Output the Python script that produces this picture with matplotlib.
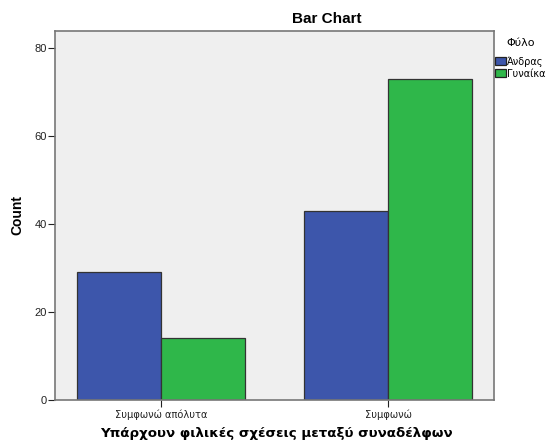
import numpy as np
import matplotlib.pyplot as plt

categories = ["Συμφωνώ απόλυτα", "Συμφωνώ"]
series = ["Άνδρας", "Γυναίκα"]
andras = [29, 43]
gynaika = [14, 73]
colors = ["#3d56ab", "#2fb74a"]

plt.rcParams['font.family'] = ['Liberation Sans', 'DejaVu Sans']

W, H = 551, 443
fig = plt.figure(figsize=(W/100, H/100), dpi=100)
# axes box: x 55..494, y 31..400 (pixels)
ax = fig.add_axes([55/W, 1 - 400/H, 439/W, 369/H])
ax.set_facecolor("#efefef")

x = np.arange(len(categories))
w = 0.37
ax.bar(x - w/2, andras, w, color=colors[0], edgecolor="#333333", linewidth=0.9, label=series[0])
ax.bar(x + w/2, gynaika, w, color=colors[1], edgecolor="#333333", linewidth=0.9, label=series[1])

ax.set_xlim(-0.467, 1.467)
ax.set_ylim(0, 83.9)
ax.set_yticks([0, 20, 40, 60, 80])
ax.set_xticks(x)
ax.set_xticklabels(categories, family=['DejaVu Sans'], fontsize=7.1)
ax.tick_params(axis='y', labelsize=8, colors="#222222", length=5, width=0.8, direction='out', pad=1)
ax.tick_params(axis='x', colors="#222222", length=5, width=0.8, direction='out', pad=2)
for s in ax.spines.values():
    s.set_color("#777777")
    s.set_linewidth(1.2)

fig.text(17/W, 1 - 215/H, "Count", rotation=90, ha='center', va='center',
         fontsize=10, fontweight='bold')
fig.text(276/W, 1 - 434/H, "Υπάρχουν φιλικές σχέσεις μεταξύ συναδέλφων", ha='center', va='center',
         fontsize=9.6, fontweight='bold', family=['DejaVu Sans'])
fig.text(327/W, 1 - 19/H, "Bar Chart", ha='center', va='center', fontsize=11, fontweight='bold')

leg = fig.legend(loc='upper left', bbox_to_anchor=(494/W, 1 - 37/H), title="Φύλο",
                 frameon=False, handlelength=1.1, handleheight=0.9, handletextpad=0.15,
                 labelspacing=0.2, borderpad=0.1, borderaxespad=0,
                 prop={'family': ['DejaVu Sans'], 'size': 7})
plt.setp(leg.get_title(), family=['DejaVu Sans'], fontsize=8)
leg._legend_box.sep = 6
for p in leg.get_patches():
    p.set_edgecolor("#222222")

fig.savefig("out.png", dpi=100)
